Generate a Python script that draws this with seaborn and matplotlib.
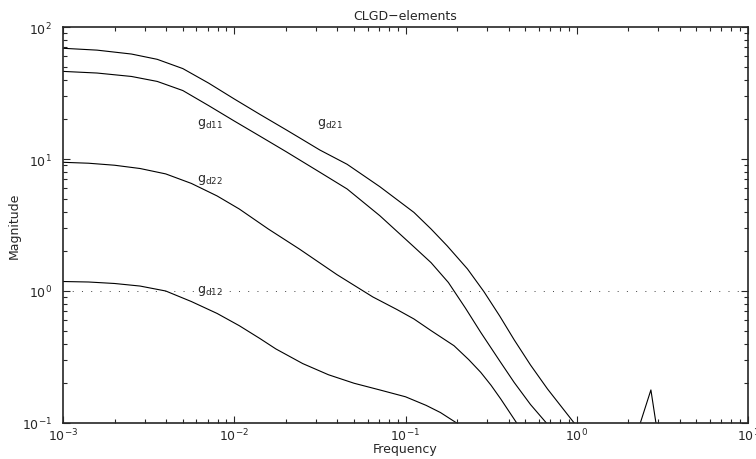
import matplotlib
matplotlib.use('Agg')
import matplotlib.pyplot as plt
import seaborn as sns

# gd21 (top curve)
f_d21 = [0.001, 0.00158, 0.00251, 0.00355, 0.00501, 0.00708, 0.0100, 0.0141,
         0.0200, 0.0240, 0.0316, 0.0456, 0.0708, 0.112, 0.141, 0.175, 0.230,
         0.287, 0.355, 0.431, 0.537, 0.675, 0.966, 1.58]
m_d21 = [69.0, 66.8, 62.4, 56.9, 48.4, 37.6, 28.5, 21.8,
         16.7, 14.5, 11.7, 9.12, 6.17, 3.94, 2.95, 2.20, 1.47,
         0.989, 0.646, 0.427, 0.275, 0.181, 0.100, 0.0427]

# gd11
f_d11 = [0.001, 0.00158, 0.00251, 0.00355, 0.00501, 0.00708, 0.0100, 0.0140,
         0.0200, 0.0316, 0.0456, 0.0708, 0.112, 0.141, 0.178, 0.224, 0.275,
         0.355, 0.431, 0.537, 0.665, 1.26]
m_d11 = [46.1, 44.8, 42.2, 38.7, 33.0, 25.4, 19.4, 15.0,
         11.4, 7.94, 5.93, 3.72, 2.16, 1.64, 1.16, 0.741, 0.486,
         0.295, 0.203, 0.138, 0.100, 0.0355]

# gd22
f_d22 = [0.001, 0.00141, 0.00200, 0.00282, 0.00398, 0.00562, 0.00794, 0.0107,
         0.0158, 0.0240, 0.0398, 0.0644, 0.0891, 0.112, 0.141, 0.192, 0.234,
         0.275, 0.316, 0.360, 0.446, 0.794]
m_d22 = [9.44, 9.29, 8.97, 8.47, 7.71, 6.53, 5.25, 4.18,
         2.95, 2.08, 1.33, 0.902, 0.724, 0.614, 0.501, 0.385, 0.302,
         0.242, 0.193, 0.152, 0.100, 0.0316]

# gd12 (with the small peak near 2.7)
f_d12 = [0.001, 0.00141, 0.00200, 0.00282, 0.00398, 0.00562, 0.00794, 0.0107,
         0.0141, 0.0175, 0.0251, 0.0355, 0.0501, 0.0708, 0.100, 0.132, 0.160,
         0.199, 0.316, 1.0, 2.0, 2.71, 3.02, 5.01, 10.0]
m_d12 = [1.18, 1.17, 1.14, 1.09, 1.0, 0.832, 0.676, 0.546,
         0.437, 0.364, 0.282, 0.232, 0.200, 0.178, 0.158, 0.136, 0.120,
         0.100, 0.050, 0.025, 0.052, 0.178, 0.071, 0.025, 0.016]

labels = ['$g_{d11}$', '$g_{d21}$', '$g_{d22}$', '$g_{d12}$']
label_x = [0.00608, 0.0305, 0.00608, 0.00608]
label_y = [18.1, 18.1, 6.81, 0.98]

sns.set_style('ticks')
plt.rcParams['font.family'] = ['DejaVu Sans']
plt.rcParams['mathtext.default'] = 'regular'
plt.rcParams['font.size'] = 9

fig = plt.figure(figsize=(7.56, 4.6), dpi=100)
ax = fig.add_axes([63 / 756, 36 / 460, 685 / 756, 396 / 460])
ax.set_xscale('log')
ax.set_yscale('log')

for f, m in [(f_d21, m_d21), (f_d11, m_d11), (f_d22, m_d22), (f_d12, m_d12)]:
    sns.lineplot(x=f, y=m, ax=ax, color='black', linewidth=0.8)

ax.axhline(1, color='0.25', lw=0.7, ls=(0, (1, 8.5)))

for lab, x, y in zip(labels, label_x, label_y):
    ax.text(x, y, lab, ha='left', va='baseline', fontsize=9)

ax.set_xlim(1e-3, 10)
ax.set_ylim(0.1, 100)
ax.set_title('CLGD\u2212elements', fontsize=9, pad=6)
ax.set_xlabel('Frequency', fontsize=9, labelpad=-1)
ax.set_ylabel('Magnitude', fontsize=9, labelpad=1)

ax.tick_params(which='both', direction='in', top=True, right=True, width=0.8)
ax.tick_params(which='major', length=5)
ax.tick_params(which='minor', length=3)
ax.tick_params(axis='x', pad=3)
ax.tick_params(axis='y', pad=8)
for s in ax.spines.values():
    s.set_linewidth(1.2)

fig.savefig('out.png', dpi=100)
